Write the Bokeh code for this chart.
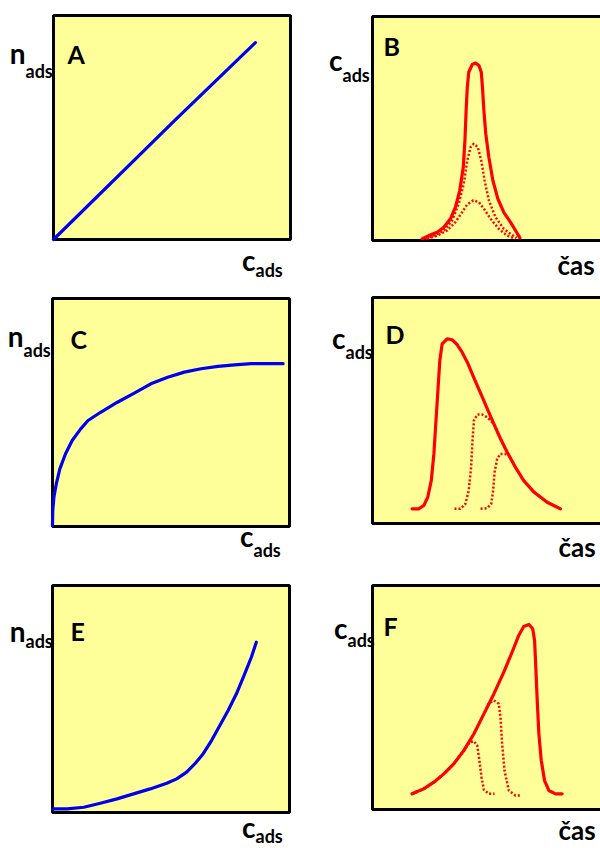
from bokeh.plotting import figure
from bokeh.models import Range1d
from bokeh.layouts import column, row
from bokeh.core.properties import value
from bokeh.embed import file_html
from bokeh.resources import INLINE

# ---- curve data, in units of each panel's box (0..1 on both axes) ----
# A: linear isotherm
a_x = [0.0, 0.515, 0.852]
a_y = [0.0, 0.535, 0.879]

# B: symmetric elution peaks (three injected amounts)
b_x = [0.210, 0.238, 0.273, 0.301, 0.329, 0.350, 0.368, 0.383, 0.390, 0.395, 0.400, 0.406, 0.421,
       0.435, 0.449, 0.459, 0.464, 0.470, 0.478, 0.491, 0.508, 0.529, 0.554, 0.582, 0.608, 0.622]
b_y = [0.008, 0.022, 0.037, 0.059, 0.097, 0.149, 0.223, 0.327, 0.446, 0.580, 0.684, 0.751, 0.786,
       0.792, 0.781, 0.751, 0.684, 0.580, 0.476, 0.372, 0.268, 0.186, 0.126, 0.082, 0.037, 0.012]
b2_x = [0.224, 0.259, 0.301, 0.336, 0.364, 0.385, 0.400, 0.414, 0.427, 0.444, 0.459, 0.473, 0.491,
        0.519, 0.554, 0.582, 0.608]
b2_y = [0.008, 0.022, 0.045, 0.089, 0.164, 0.253, 0.357, 0.417, 0.432, 0.417, 0.357, 0.268, 0.179,
        0.104, 0.052, 0.030, 0.012]
b3_x = [0.231, 0.273, 0.315, 0.350, 0.378, 0.400, 0.425, 0.449, 0.470, 0.498, 0.533, 0.568, 0.603]
b3_y = [0.008, 0.022, 0.045, 0.082, 0.126, 0.161, 0.179, 0.171, 0.142, 0.097, 0.052, 0.022, 0.008]

# C: Langmuir-type isotherm
c_x = [0.0, 0.001, 0.006, 0.016, 0.031, 0.055, 0.083, 0.119, 0.150, 0.203, 0.274, 0.345, 0.415,
       0.486, 0.556, 0.627, 0.698, 0.768, 0.839, 0.910, 0.973]
c_y = [0.004, 0.070, 0.129, 0.187, 0.253, 0.319, 0.377, 0.428, 0.465, 0.501, 0.545, 0.585, 0.626,
       0.655, 0.677, 0.692, 0.702, 0.709, 0.714, 0.715, 0.714]

# D: tailing peaks
d_x = [0.167, 0.195, 0.217, 0.233, 0.248, 0.259, 0.267, 0.276, 0.284, 0.294, 0.315, 0.336, 0.357,
       0.378, 0.400, 0.427, 0.456, 0.484, 0.512, 0.540, 0.568, 0.603, 0.638, 0.681, 0.737, 0.793]
d_y = [0.065, 0.065, 0.080, 0.116, 0.190, 0.308, 0.441, 0.588, 0.721, 0.795, 0.817, 0.813, 0.792,
       0.758, 0.714, 0.647, 0.577, 0.508, 0.441, 0.375, 0.316, 0.249, 0.190, 0.139, 0.094, 0.065]
d2_x = [0.346, 0.371, 0.392, 0.406, 0.416, 0.422, 0.428, 0.442, 0.463, 0.484, 0.512, 0.540, 0.568,
        0.603, 0.638, 0.681, 0.737, 0.793]
d2_y = [0.065, 0.065, 0.087, 0.146, 0.249, 0.367, 0.456, 0.482, 0.482, 0.470, 0.441, 0.375, 0.316,
        0.249, 0.190, 0.139, 0.094, 0.065]
d3_x = [0.456, 0.484, 0.501, 0.509, 0.515, 0.526, 0.540, 0.561, 0.575, 0.603, 0.638, 0.681, 0.737,
        0.793]
d3_y = [0.065, 0.068, 0.087, 0.146, 0.227, 0.286, 0.308, 0.308, 0.301, 0.249, 0.190, 0.139, 0.094,
        0.065]

# E: anti-Langmuir isotherm
e_x = [0.0, 0.062, 0.132, 0.202, 0.272, 0.342, 0.412, 0.482, 0.524, 0.566, 0.601, 0.636, 0.671,
       0.706, 0.741, 0.776, 0.811, 0.839, 0.860]
e_y = [0.016, 0.016, 0.023, 0.041, 0.060, 0.082, 0.104, 0.129, 0.148, 0.178, 0.215, 0.259, 0.317,
       0.383, 0.449, 0.523, 0.611, 0.684, 0.750]

# F: fronting peaks
f_x = [0.167, 0.216, 0.259, 0.301, 0.343, 0.385, 0.428, 0.470, 0.512, 0.554, 0.589, 0.617, 0.638,
       0.660, 0.676, 0.684, 0.689, 0.695, 0.702, 0.712, 0.726, 0.744, 0.772, 0.800]
f_y = [0.070, 0.092, 0.122, 0.159, 0.204, 0.263, 0.338, 0.427, 0.516, 0.613, 0.702, 0.777, 0.817,
       0.826, 0.807, 0.754, 0.635, 0.487, 0.338, 0.219, 0.129, 0.085, 0.070, 0.070]
f2_x = [0.167, 0.216, 0.259, 0.301, 0.343, 0.385, 0.410, 0.428, 0.442, 0.451, 0.460, 0.470, 0.491,
        0.515]
f2_y = [0.070, 0.092, 0.122, 0.159, 0.204, 0.263, 0.300, 0.305, 0.286, 0.219, 0.144, 0.088, 0.070,
        0.070]
f3_x = [0.167, 0.216, 0.259, 0.301, 0.343, 0.385, 0.428, 0.470, 0.491, 0.512, 0.533, 0.540, 0.547,
        0.557, 0.575, 0.603, 0.627]
f3_y = [0.070, 0.092, 0.122, 0.159, 0.204, 0.263, 0.338, 0.427, 0.475, 0.487, 0.472, 0.412, 0.293,
        0.174, 0.085, 0.063, 0.063]

YELLOW = "#FFFF99"
BLUE = "#0000EE"
RED = "#FF0000"
FONT = value("Lato")
W = 300
BOX_W = 237
# the svg text baseline sits lower than the canvas one, by about this share of the font size
TEXT_LIFT = 0.46


def panel(fig_h, box_left, box_top, box_h):
    p = figure(width=W, height=fig_h,
               x_range=Range1d(-box_left / BOX_W, (W - box_left) / BOX_W),
               y_range=Range1d(-(fig_h - box_top - box_h) / box_h, 1 + box_top / box_h),
               x_axis_type=None, y_axis_type=None,
               toolbar_location=None, output_backend="svg", min_border=0)
    p.grid.visible = False
    p.outline_line_color = None
    p.background_fill_color = "white"
    p.border_fill_color = "white"
    p.quad(left=0, right=1, bottom=0, top=1, fill_color=YELLOW,
           line_color="black", line_width=3)

    def tx(px):
        return (px - box_left) / BOX_W

    def ty(py, size):
        return (box_top + box_h - (py - TEXT_LIFT * size)) / box_h

    def label(px, py, text, size, align="left"):
        p.text(x=[tx(px)], y=[ty(py, size)], text=[text], text_font=FONT,
               text_font_size=f"{size}px", text_font_style="bold",
               text_align=align, text_baseline="alphabetic", text_color="black")

    return p, label


def sub_label(label, px, base_py, main, sub_py):
    label(px, base_py, main, 28, "right")
    label(px, sub_py, "ads", 18, "left")


def solid(p, xs, ys, color):
    p.line(xs, ys, line_color=color, line_width=3.2, line_join="round", line_cap="round")


def dotted(p, xs, ys):
    p.line(xs, ys, line_color=RED, line_width=2.5, line_dash="2 2", line_join="round")


# Row 1
pa, la = panel(283, 53, 15, 224)
solid(pa, a_x, a_y, BLUE)
sub_label(la, 25, 65, "n", 79)
la(67, 65, "A", 25)
sub_label(la, 255, 272, "c", 278)

pb, lb = panel(283, 72, 16, 224)
solid(pb, b_x, b_y, RED)
dotted(pb, b2_x, b2_y)
dotted(pb, b3_x, b3_y)
sub_label(lb, 42, 72, "c", 83)
lb(83, 57, "B", 25)
lb(257, 276, "čas", 26)

# Row 2
pc, lc = panel(283, 52, 15, 228)
solid(pc, c_x, c_y, BLUE)
sub_label(lc, 23, 65, "n", 75)
lc(70, 67, "C", 25)
sub_label(lc, 253, 265, "c", 275)

pd, ld = panel(283, 72, 14, 226)
solid(pd, d_x, d_y, RED)
dotted(pd, d2_x, d2_y)
dotted(pd, d3_x, d3_y)
sub_label(ld, 45, 67, "c", 77)
ld(85, 62, "D", 25)
ld(258, 275, "čas", 26)

# Row 3
pe, le = panel(282, 52, 19, 227)
solid(pe, e_x, e_y, BLUE)
sub_label(le, 25, 77, "n", 83)
le(70, 76, "E", 25)
sub_label(le, 255, 273, "c", 278)

pf, lf = panel(282, 72, 19, 224)
solid(pf, f_x, f_y, RED)
dotted(pf, f2_x, f2_y)
dotted(pf, f3_x, f3_y)
sub_label(lf, 47, 74, "c", 82)
lf(83, 71, "F", 25)
lf(258, 275, "čas", 26)

layout = column(row(pa, pb), row(pc, pd), row(pe, pf))

open("out.html", "w").write(file_html(layout, INLINE))
